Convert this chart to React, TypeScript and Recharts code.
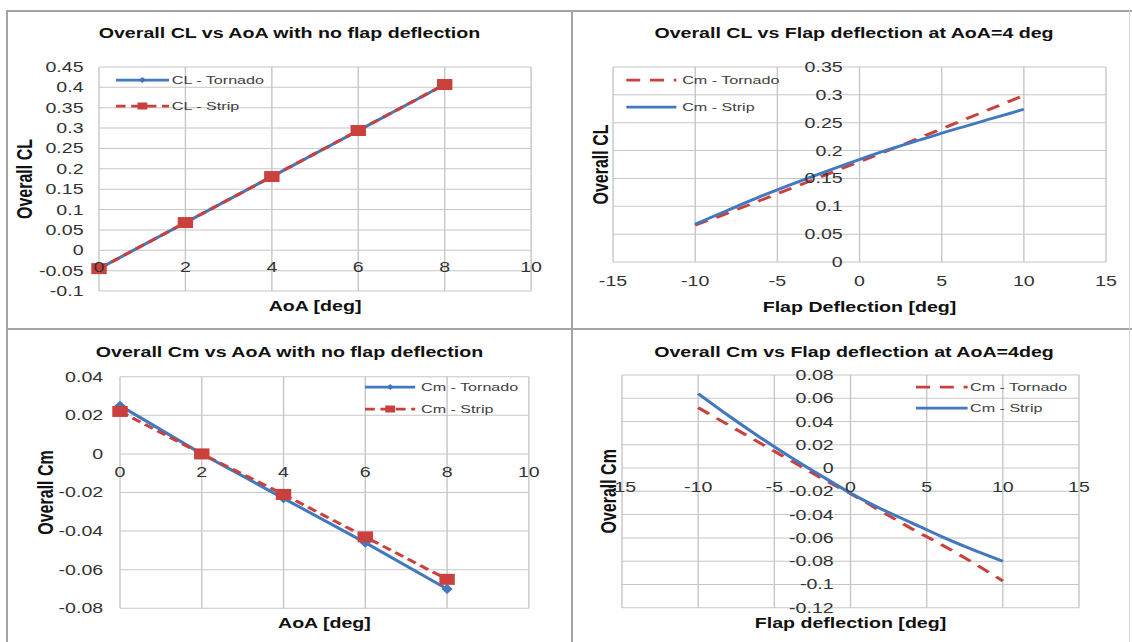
import React from 'react'
import { LineChart, Line, XAxis, YAxis, CartesianGrid, ReferenceDot, Legend } from 'recharts'

// the source picture is stretched sideways, so every panel is drawn narrow and scaled in x
const STRETCH = 1.4
const BLUE = '#4178be'
const RED = '#c9403d'
const GRID = '#c6c6c6'
const FRAME = '#a3a3a3'
const INK = '#333333'
const FONT = '"Liberation Sans", Arial, sans-serif'

// CL / Cm vs AoA, no flap
const aoa = [0, 2, 4, 6, 8]
const clTornado = [-0.045, 0.068, 0.181, 0.294, 0.407]
const clStrip = [-0.045, 0.068, 0.181, 0.294, 0.407]
const cmTornado = [0.025, 0, -0.023, -0.046, -0.07]
const cmStrip = [0.022, 0, -0.021, -0.043, -0.065]
const aoaTicks = [0, 2, 4, 6, 8, 10]
const clAoaTicks = [-0.1, -0.05, 0, 0.05, 0.1, 0.15, 0.2, 0.25, 0.3, 0.35, 0.4, 0.45]
const cmAoaTicks = [-0.08, -0.06, -0.04, -0.02, 0, 0.02, 0.04]

// CL / Cm vs flap deflection at AoA = 4 deg
const flap = [-10, -8, -6, -4, -2, 0, 2, 4, 6, 8, 10]
const clFlapTornado = [0.066, 0.088, 0.111, 0.134, 0.157, 0.18, 0.203, 0.227, 0.251, 0.275, 0.299]
const clFlapStrip = [0.068, 0.093, 0.118, 0.141, 0.163, 0.184, 0.204, 0.222, 0.24, 0.257, 0.274]
const cmFlapTornado = [0.052, 0.037, 0.022, 0.007, -0.008, -0.022, -0.037, -0.052, -0.066, -0.081, -0.097]
const cmFlapStrip = [0.064, 0.045, 0.027, 0.01, -0.006, -0.0215, -0.035, -0.047, -0.059, -0.07, -0.08]
const flapTicks = [-15, -10, -5, 0, 5, 10, 15]
const clFlapTicks = [0, 0.05, 0.1, 0.15, 0.2, 0.25, 0.3, 0.35]
const cmFlapTicks = [-0.12, -0.1, -0.08, -0.06, -0.04, -0.02, 0, 0.02, 0.04, 0.06, 0.08]

const clAoaData = aoa.map((a, i) => ({ aoa: a, tornado: clTornado[i], strip: clStrip[i] }))
const cmAoaData = aoa.map((a, i) => ({ aoa: a, tornado: cmTornado[i], strip: cmStrip[i] }))
const clFlapData = flap.map((f, i) => ({ flap: f, tornado: clFlapTornado[i], strip: clFlapStrip[i] }))
const cmFlapData = flap.map((f, i) => ({ flap: f, tornado: cmFlapTornado[i], strip: cmFlapStrip[i] }))

type Marker = 'square' | 'diamond' | undefined
type Item = { name: string; color: string; dash?: string; marker?: Marker }

const squareDot = (p: any) => (
  <rect key={`sq-${p.index}`} x={p.cx - 5.5} y={p.cy - 5.5} width={11} height={11} fill={RED} />
)
const diamondDot = (p: any) => (
  <path
    key={`dm-${p.index}`}
    d={`M${p.cx},${p.cy - 5}L${p.cx + 4},${p.cy}L${p.cx},${p.cy + 5}L${p.cx - 4},${p.cy}Z`}
    fill={BLUE}
  />
)

// axis keeps its ticks (the grid needs them) but draws no label there
const noTick = (p: any) => <g key={`nt-${p.index}`} />

function LegendBox({ items, lineLen, gap, rowH }: { items: Item[]; lineLen: number; gap: number; rowH: number }) {
  return (
    <div style={{ fontFamily: FONT }}>
      {items.map((s) => {
        const m = lineLen / 2
        return (
          <div key={s.name} style={{ display: 'flex', alignItems: 'center', height: rowH }}>
            <svg width={lineLen} height={12} style={{ display: 'block' }}>
              <line x1={0} x2={lineLen} y1={6} y2={6} stroke={s.color} strokeWidth={2.75} strokeDasharray={s.dash} />
              {s.marker === 'square' && <rect x={m - 3.5} y={2.5} width={7} height={7} fill={RED} />}
              {s.marker === 'diamond' && <path d={`M${m},3L${m + 2.5},6L${m},9L${m - 2.5},6Z`} fill={BLUE} />}
            </svg>
            <span style={{ marginLeft: gap, fontSize: 11.5, color: '#404040', whiteSpace: 'nowrap' }}>{s.name}</span>
          </div>
        )
      })}
    </div>
  )
}

const titleStyle = (top: number, shift: number, w: number): React.CSSProperties => ({
  position: 'absolute',
  top,
  left: shift,
  width: w,
  textAlign: 'center',
  fontWeight: 'bold',
  fontSize: 14,
  lineHeight: '16px',
  color: '#111',
  whiteSpace: 'nowrap',
  pointerEvents: 'none',
})

const axisTitle = { fill: '#111', fontSize: 14, fontWeight: 'bold' }
const yTitle = (value: string, offset: number) => ({
  value,
  angle: -90,
  position: 'insideLeft' as const,
  offset,
  fill: '#111',
  fontSize: 16,
  fontWeight: 'bold',
  style: { textAnchor: 'middle' as const },
})

function Panel({ left, top, width, height, children }: any) {
  return (
    <div
      style={{
        position: 'absolute',
        left,
        top,
        width: width / STRETCH,
        height,
        transform: `scaleX(${STRETCH})`,
        transformOrigin: '0 0',
      }}
    >
      {children}
    </div>
  )
}

// tick labels placed beside an axis that crosses the plot (as Excel does at zero)
const xLabelsAtZero = (ticks: number[], offset: number) =>
  ticks.map((t) => (
    <ReferenceDot
      key={`xl-${t}`}
      x={t}
      y={0}
      r={0}
      fill="none"
      stroke="none"
      label={{ value: String(t), position: 'bottom', offset, fill: INK, fontSize: 14 }}
    />
  ))
const yLabelsAtZero = (ticks: number[], offset: number) =>
  ticks.map((t) => (
    <ReferenceDot
      key={`yl-${t}`}
      x={0}
      y={t}
      r={0}
      fill="none"
      stroke="none"
      label={{ value: String(t), position: 'left', offset, fill: INK, fontSize: 14 }}
    />
  ))

const legendProps = { layout: 'vertical' as const, align: 'center' as const, verticalAlign: 'middle' as const }

function ClAoaChart() {
  const w = 563 / STRETCH
  const items: Item[] = [
    { name: 'CL - Tornado', color: BLUE, marker: 'diamond' },
    { name: 'CL - Strip', color: RED, dash: '7 4', marker: 'square' },
  ]
  return (
    <Panel left={8} top={12} width={563} height={316}>
      <div style={titleStyle(13, 0, w)}>Overall CL vs AoA with no flap deflection</div>
      <LineChart width={w} height={316} data={clAoaData} margin={{ top: 55, right: 28.5, bottom: 17, left: 5 }}>
        <CartesianGrid stroke={GRID} />
        <XAxis
          type="number"
          dataKey="aoa"
          domain={[0, 10]}
          ticks={aoaTicks}
          interval={0}
          tick={noTick}
          tickLine={false}
          axisLine={false}
          height={20}
          label={{ value: 'AoA [deg]', position: 'insideBottom', offset: 0, ...axisTitle }}
        />
        <YAxis
          type="number"
          domain={[-0.1, 0.45]}
          ticks={clAoaTicks}
          interval={0}
          width={60}
          tickLine={false}
          axisLine={false}
          tickMargin={5}
          tick={{ fill: INK, fontSize: 14 }}
          label={yTitle('Overall CL', 6.4)}
        />
        {xLabelsAtZero(aoaTicks, 12)}
        <Line dataKey="tornado" stroke={BLUE} strokeWidth={2.75} dot={diamondDot} activeDot={false} isAnimationActive={false} />
        <Line dataKey="strip" stroke={RED} strokeWidth={2.75} strokeDasharray="7 4" dot={squareDot} activeDot={false} isAnimationActive={false} />
        <Legend {...legendProps} wrapperStyle={{ left: 77, top: 55, width: 'auto' }} content={() => <LegendBox items={items} lineLen={38} gap={2} rowH={26} />} />
      </LineChart>
    </Panel>
  )
}

function ClFlapChart() {
  const w = 555 / STRETCH
  const items: Item[] = [
    { name: 'Cm - Tornado', color: RED, dash: '10 7' },
    { name: 'Cm - Strip', color: BLUE },
  ]
  return (
    <Panel left={573} top={12} width={555} height={316}>
      <div style={titleStyle(13, 2.5, w)}>Overall CL vs Flap deflection at AoA=4 deg</div>
      <LineChart width={w} height={316} data={clFlapData} margin={{ top: 55, right: 15.7, bottom: 16, left: 8 }}>
        <CartesianGrid stroke={GRID} />
        <XAxis
          type="number"
          dataKey="flap"
          domain={[-15, 15]}
          ticks={flapTicks}
          interval={0}
          height={50}
          tickLine={false}
          axisLine={false}
          tickMargin={8}
          tick={{ fill: INK, fontSize: 14 }}
          label={{ value: 'Flap Deflection [deg]', position: 'insideBottom', offset: 0, ...axisTitle }}
        />
        <YAxis
          type="number"
          domain={[0, 0.35]}
          ticks={clFlapTicks}
          interval={0}
          width={20.6}
          tick={noTick}
          tickLine={false}
          axisLine={false}
          label={yTitle('Overall CL', 11.3)}
        />
        {yLabelsAtZero(clFlapTicks, 12)}
        <Line type="monotone" dataKey="tornado" stroke={RED} strokeWidth={2.75} strokeDasharray="10 7" dot={false} activeDot={false} isAnimationActive={false} />
        <Line type="monotone" dataKey="strip" stroke={BLUE} strokeWidth={2.75} dot={false} activeDot={false} isAnimationActive={false} />
        <Legend {...legendProps} wrapperStyle={{ left: 38, top: 54.5, width: 'auto' }} content={() => <LegendBox items={items} lineLen={36} gap={4} rowH={27} />} />
      </LineChart>
    </Panel>
  )
}

function CmAoaChart() {
  const w = 563 / STRETCH
  const items: Item[] = [
    { name: 'Cm - Tornado', color: BLUE, marker: 'diamond' },
    { name: 'Cm - Strip', color: RED, dash: '7 4', marker: 'square' },
  ]
  return (
    <Panel left={8} top={331} width={563} height={311}>
      <div style={titleStyle(12.5, 0, w)}>Overall Cm vs AoA with no flap deflection</div>
      <LineChart width={w} height={311} data={cmAoaData} margin={{ top: 45.7, right: 30.1, bottom: 13.7, left: 8 }}>
        <CartesianGrid stroke={GRID} />
        <XAxis
          type="number"
          dataKey="aoa"
          domain={[0, 10]}
          ticks={aoaTicks}
          interval={0}
          tick={noTick}
          tickLine={false}
          axisLine={false}
          height={20}
          label={{ value: 'AoA [deg]', position: 'insideBottom', offset: 0, ...axisTitle }}
        />
        <YAxis
          type="number"
          domain={[-0.08, 0.04]}
          ticks={cmAoaTicks}
          interval={0}
          width={72}
          tickLine={false}
          axisLine={false}
          tickMargin={6}
          tick={{ fill: INK, fontSize: 14 }}
          label={yTitle('Overall Cm', 18.4)}
        />
        {xLabelsAtZero(aoaTicks, 13)}
        <Line dataKey="tornado" stroke={BLUE} strokeWidth={2.75} dot={diamondDot} activeDot={false} isAnimationActive={false} />
        <Line dataKey="strip" stroke={RED} strokeWidth={2.75} strokeDasharray="7 4" dot={squareDot} activeDot={false} isAnimationActive={false} />
        <Legend {...legendProps} wrapperStyle={{ left: 255, top: 45, width: 'auto' }} content={() => <LegendBox items={items} lineLen={36} gap={4} rowH={22} />} />
      </LineChart>
    </Panel>
  )
}

function CmFlapChart() {
  const w = 555 / STRETCH
  const items: Item[] = [
    { name: 'Cm - Tornado', color: RED, dash: '10 7' },
    { name: 'Cm - Strip', color: BLUE },
  ]
  return (
    <Panel left={573} top={331} width={555} height={311}>
      <div style={titleStyle(12.5, 2.5, w)}>Overall Cm vs Flap deflection at AoA=4deg</div>
      <LineChart width={w} height={311} data={cmFlapData} margin={{ top: 44, right: 35, bottom: 14.3, left: 8 }}>
        <CartesianGrid stroke={GRID} />
        <XAxis
          type="number"
          dataKey="flap"
          domain={[-15, 15]}
          ticks={flapTicks}
          interval={0}
          tick={noTick}
          tickLine={false}
          axisLine={false}
          height={20}
          label={{ value: 'Flap deflection [deg]', position: 'insideBottom', offset: 0, ...axisTitle }}
        />
        <YAxis
          type="number"
          domain={[-0.12, 0.08]}
          ticks={cmFlapTicks}
          interval={0}
          width={27}
          tick={noTick}
          tickLine={false}
          axisLine={false}
          label={yTitle('Overall Cm', 17.4)}
        />
        {yLabelsAtZero(cmFlapTicks, 12)}
        {xLabelsAtZero(flapTicks, 14)}
        <Line type="monotone" dataKey="tornado" stroke={RED} strokeWidth={2.75} strokeDasharray="10 7" dot={false} activeDot={false} isAnimationActive={false} />
        <Line type="monotone" dataKey="strip" stroke={BLUE} strokeWidth={2.75} dot={false} activeDot={false} isAnimationActive={false} />
        <Legend {...legendProps} wrapperStyle={{ left: 244.6, top: 45.5, width: 'auto' }} content={() => <LegendBox items={items} lineLen={37} gap={2} rowH={21} />} />
      </LineChart>
    </Panel>
  )
}

const rule = (left: number, top: number, width: number, height: number, color = FRAME): React.CSSProperties => ({
  position: 'absolute',
  left,
  top,
  width,
  height,
  background: color,
})

export default function App() {
  return (
    <div
      style={{
        position: 'absolute',
        left: 0,
        top: 0,
        width: 1132,
        height: 642,
        overflow: 'hidden',
        background: '#fff',
        fontFamily: FONT,
      }}
    >
      <div style={rule(6, 10, 1126, 2)} />
      <div style={rule(6, 10, 2, 632)} />
      <div style={rule(571, 10, 2, 632)} />
      <div style={rule(6, 328, 1126, 2)} />
      <div style={rule(1129, 10, 1, 632, '#d4d4d4')} />
      <ClAoaChart />
      <ClFlapChart />
      <CmAoaChart />
      <CmFlapChart />
    </div>
  )
}
